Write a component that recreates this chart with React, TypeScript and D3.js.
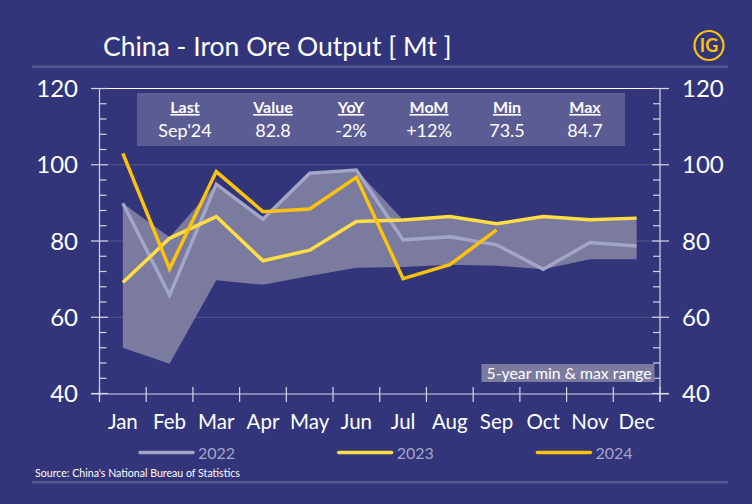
import React from 'react';
import * as d3 from 'd3';

const MONTHS = ['Jan', 'Feb', 'Mar', 'Apr', 'May', 'Jun', 'Jul', 'Aug', 'Sep', 'Oct', 'Nov', 'Dec'];
const RANGE_MAX = [89.9, 81, 94.9, 85.7, 97.8, 98.6, 85.5, 86.4, 84.5, 86.4, 85.6, 86];
const RANGE_MIN = [52, 47.8, 69.7, 68.5, 70.8, 73, 73.2, 73.8, 73.5, 72.6, 75.2, 75.2];
const S2022 = [89.9, 65.8, 94.9, 85.7, 97.8, 98.6, 80.3, 81.1, 79, 72.6, 79.6, 78.7];
const S2023 = [69.1, 80.7, 86.4, 74.8, 77.6, 85.1, 85.5, 86.4, 84.5, 86.4, 85.6, 86];
const S2024 = [103, 72.7, 98.2, 87.7, 88.4, 96.7, 70.1, 73.8, 82.9];
const TABLE_HEADERS = ['Last', 'Value', 'YoY', 'MoM', 'Min', 'Max'];
const TABLE_VALUES = ["Sep'24", '82.8', '-2%', '+12%', '73.5', '84.7'];
const TABLE_X = [185, 273, 351, 429, 507, 585];
const LEGEND = ['2022', '2023', '2024'];

const W = 752;
const H = 504;
const BG = '#32357a';
const C2022 = '#a3a5c9';
const C2023 = '#ffdd44';
const C2024 = '#fdc20e';
const AXIS = '#d5d6e6';
const FONT = 'Lato, sans-serif';

const LEFT = 99.5;
const RIGHT = 660;
const TOP = 88.5;
const BOTTOM = 393.5;

export default function App() {
  const x = d3.scalePoint<string>().domain(MONTHS).range([LEFT, RIGHT]).padding(0.5);
  const y = d3.scaleLinear().domain([40, 120]).range([BOTTOM, TOP]);
  const step = x.step();

  const line = d3
    .line<number>()
    .x((_, i) => x(MONTHS[i])!)
    .y((d) => y(d));

  const area = d3
    .area<number>()
    .x((_, i) => x(MONTHS[i])!)
    .y0((_, i) => y(RANGE_MIN[i]))
    .y1((d) => y(d));

  const majors = [40, 60, 80, 100, 120];
  const minors = d3.range(44, 120, 4).filter((t) => t % 20 !== 0);
  const xEdges = d3.range(0, 13).map((i) => LEFT + i * step);

  return (
    <svg
      width={W}
      height={H}
      viewBox={`0 0 ${W} ${H}`}
      style={{ position: 'absolute', left: 0, top: 0, background: BG, fontFamily: FONT }}
    >
      {/* Title and rules */}
      <text x={103} y={56} fontSize={26.5} fill="#fff">China - Iron Ore Output [ Mt ]</text>
      <rect x={32} y={65.5} width={696} height={2.5} fill="#54578f" />
      <rect x={32} y={481} width={696} height={2.5} fill="#54578f" />

      {/* Logo */}
      <circle cx={709} cy={45.5} r={14.5} fill="none" stroke={C2024} strokeWidth={2.2} />
      <text x={709} y={52} textAnchor="middle" fontSize={18} fontWeight={700} fontFamily="Lato, sans-serif" fill={C2024}>IG</text>

      {/* Grid lines */}
      {[60, 80, 100].map((t) => (
        <line key={t} x1={LEFT} x2={RIGHT} y1={y(t)} y2={y(t)} stroke="#54578f" strokeWidth={1} />
      ))}

      {/* Range */}
      <path d={area(RANGE_MAX)!} fill="#7b7b9f" />

      {/* Series */}
      <path d={line(S2022)!} fill="none" stroke={C2022} strokeWidth={3.5} />
      <path d={line(S2023)!} fill="none" stroke={C2023} strokeWidth={3.5} />
      <path d={line(S2024)!} fill="none" stroke={C2024} strokeWidth={3.5} />

      {/* Stats table */}
      <rect x={137} y={93} width={488} height={53} fill="#5c5c94" />
      {TABLE_HEADERS.map((h, i) => (
        <text
          key={h}
          x={TABLE_X[i]}
          y={113}
          textAnchor="middle"
          fontSize={16}
          fontWeight={700}
          fill="#fff"
          textDecoration="underline"
        >
          {h}
        </text>
      ))}
      {TABLE_VALUES.map((v, i) => (
        <text key={i} x={TABLE_X[i]} y={137} textAnchor="middle" fontSize={18} fill="#fff">{v}</text>
      ))}

      {/* Axes */}
      <line x1={91} x2={669} y1={TOP} y2={TOP} stroke="#fff" strokeWidth={1.2} />
      <line x1={91} x2={669} y1={BOTTOM + 0.5} y2={BOTTOM + 0.5} stroke={AXIS} strokeWidth={1.2} />
      <line x1={LEFT} x2={LEFT} y1={TOP} y2={402} stroke={AXIS} strokeWidth={1.2} />
      <line x1={RIGHT} x2={RIGHT} y1={TOP} y2={402} stroke={AXIS} strokeWidth={1.2} />
      {xEdges.map((e) => (
        <line key={e} x1={e} x2={e} y1={387} y2={402} stroke={AXIS} strokeWidth={1.2} />
      ))}
      {majors.map((t) => (
        <g key={t}>
          <line x1={91} x2={108} y1={y(t)} y2={y(t)} stroke={AXIS} strokeWidth={1.2} />
          <line x1={652} x2={669} y1={y(t)} y2={y(t)} stroke={AXIS} strokeWidth={1.2} />
          <text x={78} y={y(t) + 8.5} textAnchor="end" fontSize={24} fill="#fff">{t}</text>
          <text x={682} y={y(t) + 8.5} textAnchor="start" fontSize={24} fill="#fff">{t}</text>
        </g>
      ))}
      {minors.map((t) => (
        <g key={t}>
          <line x1={LEFT} x2={106.5} y1={y(t)} y2={y(t)} stroke={AXIS} strokeWidth={1.2} />
          <line x1={653} x2={RIGHT} y1={y(t)} y2={y(t)} stroke={AXIS} strokeWidth={1.2} />
        </g>
      ))}
      {MONTHS.map((m) => (
        <text key={m} x={x(m)} y={429} textAnchor="middle" fontSize={20.5} fill="#fff">{m}</text>
      ))}

      {/* Range note */}
      <rect x={481.5} y={364} width={173} height={18} fill="#7b7b9f" />
      <text x={569} y={379} textAnchor="middle" fontSize={15.8} fill="#fff">5-year min &amp; max range</text>

      {/* Legend */}
      {LEGEND.map((label, i) => {
        const lx = 140 + i * 198.7;
        const color = [C2022, C2023, C2024][i];
        return (
          <g key={label}>
            <line x1={lx} x2={lx + 53} y1={452.5} y2={452.5} stroke={color} strokeWidth={3.5} strokeLinecap="round" />
            <text x={lx + 58} y={459} fontSize={16} fill={C2022}>{label}</text>
          </g>
        );
      })}

      {/* Source */}
      <text x={35} y={477} fontSize={10.6} fill="#fff">Source: China's National Bureau of Statistics</text>
    </svg>
  );
}
